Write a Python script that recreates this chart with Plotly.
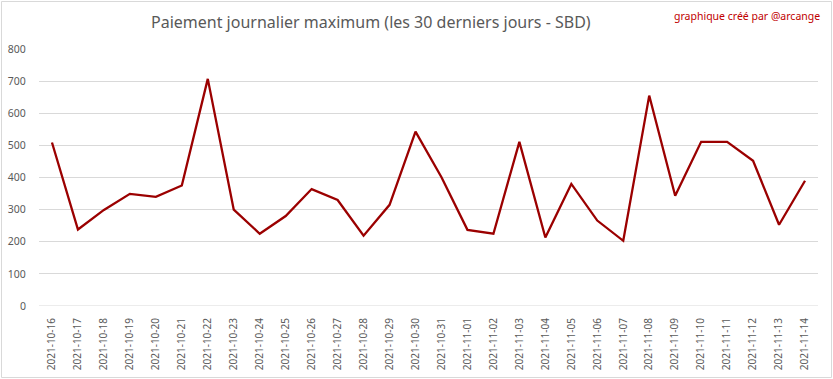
import plotly.graph_objects as go

dates = ["2021-10-16", "2021-10-17", "2021-10-18", "2021-10-19", "2021-10-20",
         "2021-10-21", "2021-10-22", "2021-10-23", "2021-10-24", "2021-10-25",
         "2021-10-26", "2021-10-27", "2021-10-28", "2021-10-29", "2021-10-30",
         "2021-10-31", "2021-11-01", "2021-11-02", "2021-11-03", "2021-11-04",
         "2021-11-05", "2021-11-06", "2021-11-07", "2021-11-08", "2021-11-09",
         "2021-11-10", "2021-11-11", "2021-11-12", "2021-11-13", "2021-11-14"]
max_payout = [509, 238, 299, 349, 340, 375, 707, 300, 225, 280,
              364, 330, 219, 315, 543, 401, 237, 225, 511, 213,
              380, 266, 203, 655, 343, 511, 511, 452, 253, 390]
y_ticks = [0, 100, 200, 300, 400, 500, 600, 700, 800]

title_text = "Paiement journalier maximum (les 30 derniers jours - SBD)"
credit_text = "graphique créé par @arcange"

W, H = 833, 379
L, R, T, B = 39, 15, 49, 73
pw, ph = W - L - R, H - T - B

def px_x(x):
    return (x - L) / pw

def px_y(y):
    return (H - B - y) / ph

fig = go.Figure()
fig.add_trace(go.Scatter(
    x=dates, y=max_payout, mode="lines",
    line=dict(color="#9B0000", width=2.3),
    hoverinfo="x+y",
))

fig.update_layout(
    width=W, height=H,
    margin=dict(l=L, r=R, t=T, b=B, autoexpand=False),
    paper_bgcolor="white", plot_bgcolor="white",
    font=dict(family="Noto Sans, Open Sans, sans-serif", color="#595959"),
    showlegend=False,
    xaxis=dict(
        type="category", tickangle=-90, showgrid=False, showline=False,
        zeroline=False, tickfont=dict(size=10, color="#595959"),
        ticks="outside", ticklen=7, tickcolor="rgba(0,0,0,0)",
        range=[-0.5, len(dates) - 0.5], automargin=False,
    ),
    yaxis=dict(
        range=[0, 800], tickvals=y_ticks, showgrid=True,
        gridcolor="#D9D9D9", gridwidth=1, zeroline=False, showline=False,
        tickfont=dict(size=10.5, color="#595959"),
        ticks="outside", ticklen=10, tickcolor="rgba(0,0,0,0)",
        automargin=False,
    ),
    annotations=[
        dict(text=title_text, xref="paper", yref="paper",
             x=px_x(371), y=px_y(22), xanchor="center", yanchor="middle",
             showarrow=False, font=dict(size=16, color="#595959")),
        dict(text=credit_text, xref="paper", yref="paper",
             x=px_x(822), y=px_y(16), xanchor="right", yanchor="middle",
             showarrow=False, font=dict(size=10.5, color="#C00000")),
    ],
    shapes=[
        dict(type="line", xref="paper", yref="y", x0=0, x1=1, y0=0, y1=0,
             line=dict(color="#D9D9D9", width=1), layer="below"),
        dict(type="rect", xref="paper", yref="paper",
             x0=px_x(1.5), x1=px_x(831.5), y0=px_y(377.5), y1=px_y(1.5),
             line=dict(color="#D9D9D9", width=1)),
    ],
)

fig.write_html(
    "out.html",
    config={"displayModeBar": False},
    post_script="document.body.style.margin='0';document.body.style.overflow='hidden';",
)
